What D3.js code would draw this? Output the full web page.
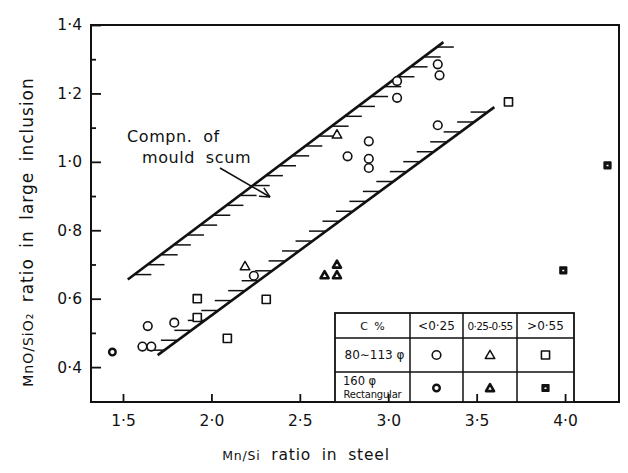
<!DOCTYPE html>
<html>
<head>
<meta charset="utf-8">
<script src="https://cdn.jsdelivr.net/npm/d3@7"></script>
<style>
  html, body { margin: 0; padding: 0; background: #fff; }
  svg { display: block; }
  text { font-family: "DejaVu Sans", "Liberation Sans", sans-serif; fill: #111; }
</style>
</head>
<body>
<svg id="chart" width="628" height="473"></svg>
<script>
// Mn/Si ratio in steel against MnO/SiO2 ratio of large inclusions

const xTicks = [1.5, 2.0, 2.5, 3.0, 3.5, 4.0];
const yTicks = [0.4, 0.6, 0.8, 1.0, 1.2, 1.4];
const yMinorTicks = [0.5, 0.7, 0.9, 1.1, 1.3];

// 80~113 φ ingots, by carbon class
const circlesSmall = [[1.64, 0.52], [1.61, 0.46], [1.66, 0.46], [1.79, 0.53], [2.24, 0.667],
  [2.77, 1.016], [2.89, 1.06], [2.89, 1.009], [2.89, 0.982], [3.05, 1.236], [3.05, 1.187],
  [3.28, 1.285], [3.29, 1.253], [3.28, 1.107]];
const trianglesSmall = [[2.19, 0.695], [2.71, 1.08]];
const squaresSmall = [[1.92, 0.60], [1.92, 0.545], [2.09, 0.484], [2.31, 0.598], [3.68, 1.175]];

// 160 φ rectangular ingots, by carbon class
const circlesLarge = [[1.44, 0.444]];
const trianglesLarge = [[2.64, 0.669], [2.71, 0.669], [2.71, 0.70]];
const squaresLarge = [[3.99, 0.683], [4.24, 0.99]];

// limits of the mould scum composition band
const upperLimit = [[1.527, 0.656], [3.312, 1.35]];
const lowerLimit = [[1.696, 0.435], [3.60, 1.16]];

// legend table text
const carbonClasses = ["<0·25", "0·25-0·55", ">0·55"];
const ingotSizes = ["80∼113 φ", "160 φ", "Rectangular"];

const ink = "#111";
const svg = d3.select("#chart");

const plotLeft = 91, plotRight = 619, plotTop = 25, plotBottom = 402;
const x = d3.scaleLinear().domain([1.319, 4.305]).range([plotLeft, plotRight]);
const y = d3.scaleLinear().domain([0.298, 1.4]).range([plotBottom, plotTop]);
const fmt = d => d3.format(".1f")(d).replace(".", "·");

// frame
svg.append("rect")
  .attr("x", plotLeft).attr("y", plotTop)
  .attr("width", plotRight - plotLeft).attr("height", plotBottom - plotTop)
  .attr("fill", "none").attr("stroke", ink).attr("stroke-width", 2);

// axes with inward ticks
const gx = svg.append("g").attr("transform", `translate(0,${plotBottom})`)
  .call(d3.axisBottom(x).tickValues(xTicks).tickSizeInner(-8).tickSizeOuter(0)
    .tickPadding(13).tickFormat(fmt));
const gy = svg.append("g").attr("transform", `translate(${plotLeft},0)`)
  .call(d3.axisLeft(y).tickValues(yTicks).tickSizeInner(-10).tickSizeOuter(0)
    .tickPadding(9).tickFormat(fmt));
const gym = svg.append("g").attr("transform", `translate(${plotLeft},0)`)
  .call(d3.axisLeft(y).tickValues(yMinorTicks).tickSizeInner(-5).tickSizeOuter(0)
    .tickFormat(""));
[gx, gy, gym].forEach(g => {
  g.select(".domain").remove();
  g.selectAll(".tick line").attr("stroke", ink).attr("stroke-width", 1.8);
  g.selectAll(".tick text").attr("font-size", 15.5).attr("fill", ink)
    .style("font-family", "DejaVu Sans, sans-serif");
});

// composition band limits with hatching toward the inside of the band
function limitLine(pts, side) {
  const [x0, y0] = [x(pts[0][0]), y(pts[0][1])];
  const [x1, y1] = [x(pts[1][0]), y(pts[1][1])];
  const g = svg.append("g").attr("stroke", ink).attr("fill", "none");
  g.append("line").attr("x1", x0).attr("y1", y0).attr("x2", x1).attr("y2", y1)
    .attr("stroke-width", 2.6);
  const n = Math.round(Math.abs(y1 - y0) / 10);
  for (let i = 0; i < n; i++) {
    const t = (i + 0.5) / n;
    const px = x0 + t * (x1 - x0), py = y0 + t * (y1 - y0);
    g.append("line")
      .attr("x1", side > 0 ? px + 1 : px - 17).attr("x2", side > 0 ? px + 17 : px - 1)
      .attr("y1", py).attr("y2", py).attr("stroke-width", 1.5);
  }
}
limitLine(upperLimit, 1);
limitLine(lowerLimit, -1);

// markers
function drawMarker(g, shape, heavy, cx, cy) {
  if (shape === "circle") {
    g.append("circle").attr("cx", cx).attr("cy", cy)
      .attr("r", heavy ? 3.3 : 4.3).attr("fill", "#fff")
      .attr("stroke", ink).attr("stroke-width", heavy ? 2.4 : 1.6);
  } else if (shape === "triangle") {
    g.append("path").attr("transform", `translate(${cx},${cy + 0.8})`)
      .attr("d", d3.symbol(d3.symbolTriangle, heavy ? 28 : 40)())
      .attr("fill", "#fff").attr("stroke", ink).attr("stroke-width", heavy ? 2.6 : 1.5)
      .attr("stroke-linejoin", "round");
  } else {
    g.append("path").attr("transform", `translate(${cx},${cy})`)
      .attr("d", d3.symbol(d3.symbolSquare, heavy ? 44 : 66)())
      .attr("fill", heavy ? ink : "#fff").attr("stroke", ink)
      .attr("stroke-width", 1.6).attr("stroke-linejoin", "round");
    if (heavy) {
      g.append("rect").attr("x", cx - 1).attr("y", cy - 0.5)
        .attr("width", 2).attr("height", 1.5).attr("fill", "#fff");
    }
  }
}
const series = [
  [circlesSmall, "circle", false], [trianglesSmall, "triangle", false], [squaresSmall, "square", false],
  [circlesLarge, "circle", true], [trianglesLarge, "triangle", true], [squaresLarge, "square", true]
];
const gm = svg.append("g");
series.forEach(([pts, shape, heavy]) => {
  pts.forEach(d => drawMarker(gm, shape, heavy, x(d[0]), y(d[1])));
});

// annotation
const ann = svg.append("g").attr("font-size", 16).attr("letter-spacing", 0.6)
  .attr("word-spacing", 5);
ann.append("text").attr("x", 127).attr("y", 142).text("Compn. of");
ann.append("text").attr("x", 142).attr("y", 163).text("mould scum");
(function arrow(xa, ya, xb, yb) {
  ann.append("line").attr("x1", xa).attr("y1", ya).attr("x2", xb).attr("y2", yb)
    .attr("stroke", ink).attr("stroke-width", 1.5);
  const ang = Math.atan2(yb - ya, xb - xa);
  [0.45, -0.45].forEach(a => {
    ann.append("line").attr("x1", xb).attr("y1", yb)
      .attr("x2", xb - 11 * Math.cos(ang + a)).attr("y2", yb - 11 * Math.sin(ang + a))
      .attr("stroke", ink).attr("stroke-width", 1.5);
  });
})(220, 168, 270, 197);

// axis titles
const xt = svg.append("text").attr("x", 306).attr("y", 460).attr("text-anchor", "middle")
  .attr("letter-spacing", 0.8).attr("word-spacing", 5);
xt.append("tspan").attr("font-size", 12.5).text("Mn/Si");
xt.append("tspan").attr("font-size", 15.5).text(" ratio in steel");

const yt = svg.append("text").attr("transform", "translate(33,232) rotate(-90)")
  .attr("text-anchor", "middle").attr("letter-spacing", 1).attr("word-spacing", 4);
yt.append("tspan").attr("font-size", 14).text("MnO/SiO₂");
yt.append("tspan").attr("font-size", 17).text(" ratio in large inclusion");

// legend table
const cols = [335, 410, 463, 517, 574];
const rows = [313, 338, 372, plotBottom];
const lg = svg.append("g");
lg.append("rect").attr("x", cols[0]).attr("y", rows[0])
  .attr("width", cols[4] - cols[0]).attr("height", rows[3] - rows[0])
  .attr("fill", "#fff").attr("stroke", ink).attr("stroke-width", 1.8);
cols.slice(1, 4).forEach(c => lg.append("line").attr("x1", c).attr("x2", c)
  .attr("y1", rows[0]).attr("y2", rows[3]).attr("stroke", ink).attr("stroke-width", 1.5));
rows.slice(1, 3).forEach(r => lg.append("line").attr("x1", cols[0]).attr("x2", cols[4])
  .attr("y1", r).attr("y2", r).attr("stroke", ink).attr("stroke-width", 1.5));

const mid = i => (cols[i] + cols[i + 1]) / 2;
lg.append("text").attr("x", mid(0)).attr("y", 330).attr("text-anchor", "middle")
  .attr("font-size", 11).attr("word-spacing", 3).text("C %");
carbonClasses.forEach((t, i) => {
  lg.append("text").attr("x", mid(i + 1)).attr("y", 330).attr("text-anchor", "middle")
    .attr("font-size", i === 1 ? 10.5 : 12).attr("letter-spacing", i === 1 ? -0.6 : 0).text(t);
});
lg.append("text").attr("x", mid(0) + 2).attr("y", 359).attr("text-anchor", "middle")
  .attr("font-size", 12).text(ingotSizes[0]);
lg.append("text").attr("x", 343).attr("y", 385).attr("font-size", 11.5).text(ingotSizes[1]);
lg.append("text").attr("x", mid(0)).attr("y", 398).attr("text-anchor", "middle")
  .attr("font-size", 10).attr("letter-spacing", -0.2).text(ingotSizes[2]);
["circle", "triangle", "square"].forEach((s, i) => {
  drawMarker(lg, s, false, mid(i + 1), 355);
  drawMarker(lg, s, true, mid(i + 1), 388);
});

// x ticks run up over the table
svg.node().appendChild(gx.node());
</script>
</body>
</html>
